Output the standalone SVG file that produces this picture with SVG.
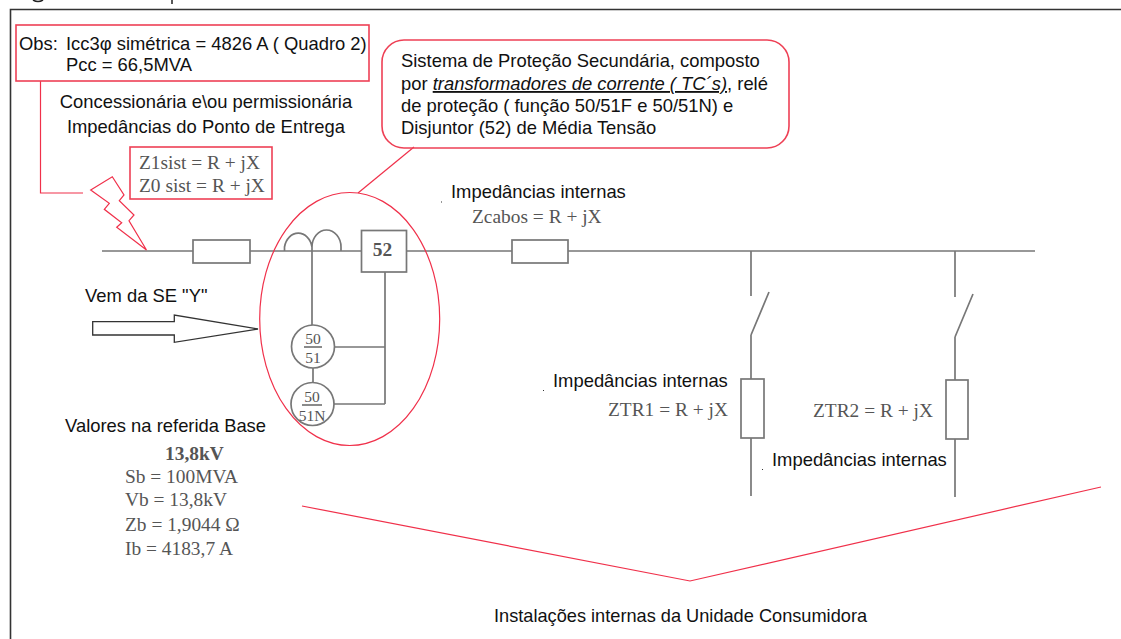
<svg xmlns="http://www.w3.org/2000/svg" width="1121" height="639" viewBox="0 0 1121 639">
<style>
.s{font-family:"Liberation Sans",Arial,sans-serif;font-size:18.4px;fill:#111}
.t{font-family:"Liberation Serif","Times New Roman",serif;font-size:19.4px;fill:#555}
.f{font-size:15.500px;text-anchor:middle}
.b{font-weight:bold}
.g{fill:none;stroke:#777;stroke-width:1.7}
.r{fill:none;stroke:#f0304a;stroke-width:1.2}
.r2{fill:none;stroke:#ee4055;stroke-width:1.6}
</style>
<rect width="1121" height="639" fill="#fff"/>
<path d="M10.5 639V9.5H1121" fill="none" stroke="#333" stroke-width="1.6"/>
<path d="M33 0q5 3 10 0M172 0v4" fill="none" stroke="#222" stroke-width="1.5"/>
<g id="connectors">
<path class="g" d="M102 251H193M250 251H361M406 251H512M568 251H1035"/>
<path class="g" d="M312 251V325M313 368V383M385 272V404M335 347H385M334 404H385"/>
<path class="g" d="M751 251V296M751 335L769 292M751 335V379M751 438V496"/>
<path class="g" d="M955 251V297M955 337L973 294M955 337V380M955 439V497"/>
<path class="r" d="M40.5 81V193H83"/>
<path class="r" d="M358 193L414 147"/>
<path class="r" d="M302 506L690 581L1101 487"/>
</g>
<g id="obs-box"><rect class="r2" x="16" y="25" width="353" height="56"/>
<text class="s" x="19" y="50">Obs:</text><text class="s" x="66" y="50">Icc3φ simétrica = 4826 A ( Quadro 2)</text><text class="s" x="66" y="71">Pcc = 66,5MVA</text></g>
<g id="concessionaria"><text class="s" x="206" y="108" text-anchor="middle">Concessionária e\ou permissionária</text><text class="s" x="206" y="133" text-anchor="middle">Impedâncias do Ponto de Entrega</text></g>
<g id="z-sist"><rect class="r2" x="130" y="147" width="142" height="52"/>
<text class="t" x="139" y="168.500">Z1sist = R + jX</text><text class="t" x="139" y="192">Z0 sist = R + jX</text></g>
<g id="lightning"><path class="r" d="M90.700 190L112.300 176.700L124 195L119.300 200.700L134 215L129 220.700L146.500 250L116.700 227.300L121.700 222.700L104.300 209.300L109.300 203.300Z"/></g>
<g id="callout"><rect class="r2" x="382" y="40" width="407" height="108" rx="22"/>
<text class="s" x="401" y="67">Sistema de Proteção Secundária, composto</text>
<text class="s" x="401" y="90">por <tspan font-style="italic" text-decoration="underline">transformadores de corrente ( TC´s)</tspan>, relé</text>
<text class="s" x="401" y="112">de proteção ( função 50/51F e 50/51N) e</text>
<text class="s" x="401" y="134">Disjuntor (52) de Média Tensão</text></g>
<g id="impedancia-cabos"><rect class="g" x="512" y="240" width="56" height="23"/><text class="s" x="451" y="198">Impedâncias internas</text><text class="t" x="472" y="223">Zcabos = R + jX</text><rect x="441" y="201.500" width="1" height="1" fill="#333"/></g>
<g id="impedancia-sistema"><rect class="g" x="193" y="240" width="57" height="23"/></g>
<g id="tc"><path class="g" d="M284.500 251V247a14 17 0 0 1 27.500 0V251M312 247a14.500 17 0 0 1 29 0V251"/></g>
<g id="disjuntor-52"><rect class="g" x="361.500" y="230.500" width="45" height="41.500"/><text class="t b" x="382.500" y="255.500" text-anchor="middle">52</text></g>
<g id="rele-50-51"><circle class="g" cx="313" cy="346.500" r="21.500"/><text class="t f" x="313" y="343.500">50</text><path class="g" stroke-width="1" d="M304 347H322"/><text class="t f" x="313" y="363">51</text></g>
<g id="rele-50-51n"><circle class="g" cx="312.500" cy="404" r="21.500"/><text class="t f" x="312" y="401.500">50</text><path class="g" stroke-width="1" d="M302 405H322"/><text class="t f" x="312" y="420.500">51N</text></g>
<g id="protecao-elipse"><ellipse class="r" cx="349.700" cy="319" rx="90" ry="126.500"/></g>
<g id="vem-da-se"><text class="s" x="85" y="301.500">Vem da SE "Y"</text><path d="M92.700 321.700H174.300V315L258 329L174.300 342.300V335H92.700Z" fill="#fff" stroke="#333" stroke-width="1.300"/></g>
<g id="valores-base"><text class="s" x="65" y="432">Valores na referida Base</text><text class="t b" x="165" y="459.500">13,8kV</text><text class="t" x="125" y="482.500">Sb = 100MVA</text><text class="t" x="125" y="506">Vb = 13,8kV</text><text class="t" x="125" y="531">Zb = 1,9044 Ω</text><text class="t" x="125" y="555">Ib = 4183,7 A</text></g>
<g id="ztr1"><rect class="g" x="741" y="379" width="23" height="59"/><text class="s" x="553" y="386.500">Impedâncias internas</text><text class="t" x="608" y="416">ZTR1 = R + jX</text><rect x="543" y="390" width="1" height="1" fill="#333"/></g>
<g id="ztr2"><rect class="g" x="946" y="380" width="22" height="59"/><text class="t" x="813" y="417">ZTR2 = R + jX</text><text class="s" x="772" y="466">Impedâncias internas</text><rect x="762" y="469" width="1" height="1" fill="#333"/></g>
<g id="instalacoes"><text class="s" x="494" y="622" style="font-size:18.2px">Instalações internas da Unidade Consumidora</text></g>
</svg>
